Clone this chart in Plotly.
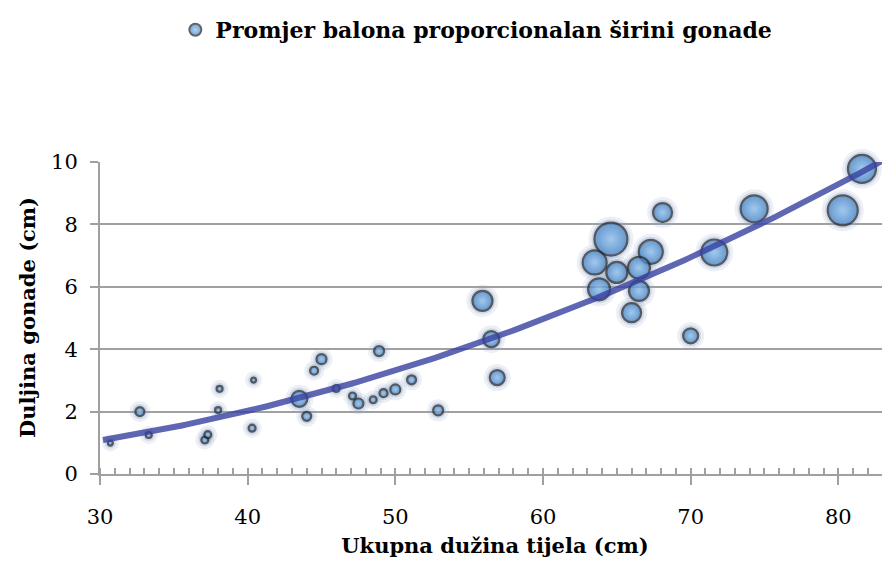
import numpy as np
import plotly.graph_objects as go

# Ukupna dužina tijela (cm)
duzina = [30.7, 32.7, 33.3, 37.1, 37.3, 38.1, 38.0, 40.3, 40.4, 43.5,
          44.0, 44.5, 45.0, 46.0, 47.1, 47.5, 48.5, 48.9, 49.2, 50.0,
          51.1, 52.9, 55.9, 56.5, 56.9, 63.5, 64.6, 63.8, 65.0, 67.3,
          66.5, 66.5, 66.0, 68.1, 70.0, 71.6, 74.3, 80.3, 81.6]
# Duljina gonade (cm)
gonada = [0.99, 2.00, 1.25, 1.09, 1.26, 2.73, 2.05, 1.47, 3.01, 2.41,
          1.85, 3.31, 3.68, 2.74, 2.50, 2.26, 2.38, 3.94, 2.59, 2.71,
          3.02, 2.04, 5.55, 4.32, 3.09, 6.78, 7.53, 5.92, 6.46, 7.12,
          6.61, 5.87, 5.17, 8.38, 4.43, 7.10, 8.50, 8.45, 9.78]
# Širina gonade (cm) - promjer balona
sirina = [0.5, 0.9, 0.6, 0.7, 0.7, 0.6, 0.6, 0.7, 0.5, 1.6,
          0.9, 0.8, 1.0, 0.7, 0.7, 1.0, 0.7, 1.0, 0.8, 1.0,
          0.9, 1.0, 2.0, 1.6, 1.5, 2.4, 3.3, 2.2, 2.1, 2.4,
          2.2, 2.0, 1.9, 1.9, 1.5, 2.6, 2.7, 3.0, 2.8]

x_ticks = [30, 40, 50, 60, 70, 80]
y_ticks = [0, 2, 4, 6, 8, 10]

x = np.array(duzina)
y = np.array(gonada)
s = np.array(sirina)

# polynomial (2nd order) trendline, least squares on the data
coef = np.polyfit(x, y, 2)
xt = np.linspace(30.2, 83.5, 200)
yt = np.polyval(coef, xt)

SREF = 0.1
serif = "DejaVu Serif"
grey = "#a0a0a0"

fig = go.Figure()
# glow layers
fig.add_trace(go.Scatter(
    x=duzina, y=gonada, mode="markers", showlegend=False, hoverinfo="skip",
    marker=dict(size=s + 1.2, sizemode="diameter", sizeref=SREF,
                color="rgba(140,165,200,0.24)", line=dict(width=0)),
    cliponaxis=False))
fig.add_trace(go.Scatter(
    x=duzina, y=gonada, mode="markers", showlegend=False, hoverinfo="skip",
    marker=dict(size=s + 0.6, sizemode="diameter", sizeref=SREF,
                color="rgba(130,155,195,0.40)", line=dict(width=0)),
    cliponaxis=False))
fig.add_trace(go.Scatter(
    x=duzina, y=gonada, mode="markers",
    name="Promjer balona proporcionalan širini gonade",
    marker=dict(size=s, sizemode="diameter", sizeref=SREF,
                color="#3b7dc4",
                gradient=dict(type="radial", color="#8ec3f0"),
                line=dict(width=2.2, color="#222222")),
    cliponaxis=False))
fig.add_trace(go.Scatter(
    x=xt, y=yt, mode="lines", showlegend=False, hoverinfo="skip",
    line=dict(color="rgba(55,65,160,0.8)", width=6)))

fig.update_layout(
    width=882, height=557,
    margin=dict(l=92, r=0, t=154, b=91),
    paper_bgcolor="white", plot_bgcolor="white",
    font=dict(family=serif, color="black"),
    legend=dict(orientation="h", xref="container", yref="container",
                x=0.531, y=0.9605, xanchor="center", yanchor="middle",
                font=dict(family=serif, size=22, color="black", weight="bold"),
                itemsizing="constant"),
    xaxis=dict(range=[30, 83.5], tickmode="linear", tick0=30, dtick=10,
               showgrid=False, zeroline=False, automargin=False,
               showline=True, linecolor=grey, linewidth=2,
               ticks="outside", ticklen=9, tickwidth=2, tickcolor=grey,
               minor=dict(dtick=1, ticks="inside", ticklen=6, tickwidth=1.5,
                          tickcolor=grey, showgrid=False),
               ticklabelstandoff=14,
               tickfont=dict(family=serif, size=21, color="black"),
               title=dict(text="<b>Ukupna dužina tijela (cm)</b>",
                          font=dict(family=serif, size=21, color="black"),
                          standoff=10)),
    xaxis2=dict(overlaying="x", matches="x", anchor="y", side="bottom",
                tickmode="linear", tick0=30, dtick=10,
                showgrid=False, zeroline=False, showline=False,
                showticklabels=False, automargin=False,
                ticks="inside", ticklen=7, tickwidth=2, tickcolor=grey),
    yaxis=dict(range=[0, 10], tickmode="array", tickvals=y_ticks,
               ticktext=[str(v) for v in y_ticks],
               showgrid=True, gridcolor=grey, gridwidth=1.5,
               zeroline=False, automargin=False,
               showline=True, linecolor=grey, linewidth=2,
               ticks="outside", ticklen=8, tickwidth=2, tickcolor=grey,
               ticklabelstandoff=8,
               tickfont=dict(family=serif, size=21, color="black")),
    annotations=[dict(text="<b>Duljina gonade (cm)</b>", textangle=-90,
                      xref="paper", yref="paper", x=0, y=0.5,
                      xshift=-73, xanchor="center", yanchor="middle",
                      showarrow=False,
                      font=dict(family=serif, size=21, color="black"))],
)

fig.write_html("out.html")
